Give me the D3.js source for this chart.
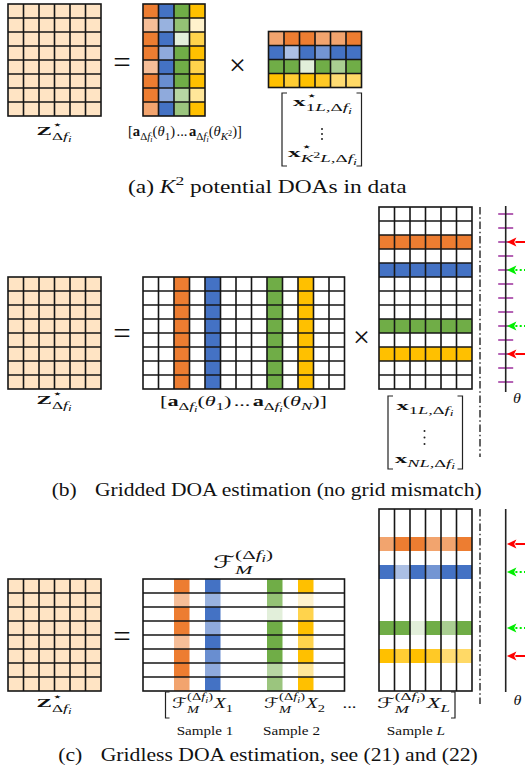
<!DOCTYPE html>
<html><head><meta charset="utf-8">
<script src="https://cdn.jsdelivr.net/npm/d3@7"></script>
<style>html,body{margin:0;padding:0;background:#fff;} svg{display:block;}</style>
</head><body>
<svg id="fig" width="525" height="774"></svg>
<script>
// ---------------- data ----------------
const sourceColors = ["#ED7D31", "#4472C4", "#70AD47", "#FFC000"];
const dataFill = "#FFE4C4";
const sensorCount = 8;             // rows of Z and of the steering matrix
const snapshotCount = 6;           // columns of Z and of X
const sourceCount = 4;             // K^2 potential DOAs in (a)
const gridSize = 13;               // grid points N
const activeGrid = [2, 4, 8, 10];  // grid index of each source
const trueDOA = [true, false, false, true]; // red solid vs green dotted arrow
// fill opacity of steering entries: rows = sensors, cols = sources
const steeringAmp = [
  [1, 1, 1, 1],
  [0.5, 0.55, 0.75, 0.2],
  [1, 1, 0.2, 0.7],
  [1, 0.6, 1, 1],
  [0.5, 1, 1, 0.7],
  [1, 0.8, 1, 1],
  [1, 0.6, 0.5, 0.4],
  [0.7, 1, 0.7, 1]
];
// fill opacity of signal entries: rows = sources, cols = snapshots
const signalAmp = [
  [0.7, 1, 1, 0.7, 0.7, 1],
  [1, 0.45, 1, 0.75, 1, 1],
  [1, 1, 0.2, 1, 0.6, 1],
  [1, 0.8, 1, 0.85, 0.55, 0.6]
];
const sampleLabels = ["Sample 1", "Sample 2", "Sample L"];
const sampleIdx = ["1", "2", "L"];
const captionTags = ["(a)", "(b)", "(c)"];
const captionTexts = ["potential DOAs in data", "Gridded DOA estimation (no grid mismatch)", "Gridless DOA estimation, see (21) and (22)"];

// ---------------- style ----------------
const SERIF = "'Liberation Serif','Times New Roman',serif";
const SYM = "'DejaVu Sans','DejaVu Serif',sans-serif";
const LINE = "#161616", LW = 1.6;
const CW = 15.5, CH = 14;

const svg = d3.select("#fig");

// ---------------- helpers ----------------
const LV = { "0": [1, 0], sup: [0.75, -0.42], sub: [0.75, 0.27], ss: [0.56, 0.45], sps: [0.56, -0.27], ssp: [0.56, -0.02] };
function S(t, f = "r", l = "0", extra = {}) { return Object.assign({ t, f, l }, extra); }
function mlabel(parent, x, y, base, segs, opt = {}) {
  const anchor = opt.anchor || "middle";
  const g = parent.append("g");
  let cx = 0, maxX = 0, markX = 0;
  segs.forEach(s => {
    const lv = LV[s.l];
    if (s.mark) markX = cx;
    if (s.stack) cx = markX;
    if (s.l === "0") cx = Math.max(cx, maxX);
    cx += (s.dx || 0) * base;
    const t = g.append("text")
      .attr("x", cx).attr("y", (lv[1] + (s.dy || 0)) * base)
      .attr("font-size", base * lv[0] * (s.scale || 1))
      .attr("font-family", s.f === "s" ? SYM : SERIF)
      .attr("font-style", s.f === "i" ? "italic" : "normal")
      .attr("font-weight", s.f === "b" ? "bold" : "normal")
      .attr("fill", "#111")
      .text(s.t);
    cx += t.node().getComputedTextLength();
    maxX = Math.max(maxX, cx);
  });
  const sx = opt.w ? opt.w / maxX : (opt.sx || 1.15);
  const W = maxX * sx;
  const off = anchor === "middle" ? W / 2 : anchor === "end" ? W : 0;
  g.attr("transform", `translate(${x - off},${y}) scale(${sx},1)`);
  return g;
}

function matrix(g, { x, y, cols, rows, cells = [], vlines = true, hlines = true }) {
  const xs = d3.scaleLinear().domain([0, cols]).range([x, x + cols * CW]);
  const ys = d3.scaleLinear().domain([0, rows]).range([y, y + rows * CH]);
  g.append("g").selectAll("rect").data(cells).join("rect")
    .attr("x", d => xs(d.c)).attr("y", d => ys(d.r))
    .attr("width", d => xs(d.c + (d.w || 1)) - xs(d.c))
    .attr("height", d => ys(d.r + (d.h || 1)) - ys(d.r))
    .attr("fill", d => d.fill).attr("fill-opacity", d => d.op == null ? 1 : d.op);
  const lg = g.append("g").attr("stroke", LINE).attr("stroke-width", LW);
  if (vlines) lg.selectAll("line.v").data(d3.range(1, cols)).join("line").attr("class", "v")
    .attr("x1", d => xs(d)).attr("x2", d => xs(d)).attr("y1", ys(0)).attr("y2", ys(rows));
  if (hlines) lg.selectAll("line.h").data(d3.range(1, rows)).join("line").attr("class", "h")
    .attr("y1", d => ys(d)).attr("y2", d => ys(d)).attr("x1", xs(0)).attr("x2", xs(cols));
  g.append("rect").attr("x", xs(0)).attr("y", ys(0))
    .attr("width", xs(cols) - xs(0)).attr("height", ys(rows) - ys(0))
    .attr("fill", "none").attr("stroke", LINE).attr("stroke-width", LW);
  return { xs, ys };
}

function symbol(g, cx, cy, ch, fs, k = 0.27) {
  g.append("text").attr("x", cx).attr("y", cy + k * fs).attr("text-anchor", "middle")
    .attr("font-family", SERIF).attr("font-size", fs).attr("fill", "#111").text(ch);
}
function bracket(g, x0, x1, y0, y1, serif = 5) {
  const p = d3.path();
  p.moveTo(x0 + serif, y0); p.lineTo(x0, y0); p.lineTo(x0, y1); p.lineTo(x0 + serif, y1);
  p.moveTo(x1 - serif, y0); p.lineTo(x1, y0); p.lineTo(x1, y1); p.lineTo(x1 - serif, y1);
  g.append("path").attr("d", p.toString()).attr("fill", "none").attr("stroke", "#222").attr("stroke-width", 1.2);
}
function vdots(g, x, yc, gap) {
  g.selectAll(null).data([-1, 0, 1]).join("circle")
    .attr("cx", x).attr("cy", d => yc + d * gap).attr("r", 1).attr("fill", "#222");
}
function dashDot(g, x, y0, y1) {
  g.append("line").attr("x1", x).attr("x2", x).attr("y1", y0).attr("y2", y1)
    .attr("stroke", "#111").attr("stroke-width", 1.3).attr("stroke-dasharray", "7.5,2.8,1.4,2.8");
}
function doaAxis(g, { x, y0, y1, ys, ticks }) {
  if (ticks) {
    g.selectAll("line.tick").data(d3.range(gridSize)).join("line").attr("class", "tick")
      .attr("x1", x - 7.5).attr("x2", x + 7.5)
      .attr("y1", d => ys(d + 0.5)).attr("y2", d => ys(d + 0.5))
      .attr("stroke", "#A23BA2").attr("stroke-width", 1.6);
  }
  g.append("line").attr("x1", x).attr("x2", x).attr("y1", y0).attr("y2", y1)
    .attr("stroke", "#222").attr("stroke-width", 1.6);
  const tip = x + 1.2, hl = 9.5, hw = 4.6;
  activeGrid.forEach((gi, s) => {
    const yy = ys(gi + 0.5);
    const col = trueDOA[s] ? "#FF0000" : "#00EE00";
    g.append("line").attr("x1", tip + hl - 1).attr("x2", 530).attr("y1", yy).attr("y2", yy)
      .attr("stroke", col).attr("stroke-width", 2)
      .attr("stroke-dasharray", trueDOA[s] ? null : "2,2.3");
    g.append("path").attr("d", `M${tip},${yy}L${tip + hl},${yy - hw}L${tip + hl - 2.2},${yy}L${tip + hl},${yy + hw}Z`)
      .attr("fill", col);
  });
}
function caption(g, i, x, y, w, gapEm, mid) {
  const segs = [S(captionTags[i], "r")];
  if (mid.length) {
    mid[0].dx = gapEm;
    segs.push(...mid, S("\u00A0" + captionTexts[i], "r"));
  } else {
    segs.push(S(captionTexts[i], "r", "0", { dx: gapEm }));
  }
  mlabel(g, x, y, 18, segs, { w });
}

const zCells = d3.cross(d3.range(snapshotCount), d3.range(sensorCount)).map(([c, r]) => ({ c, r, fill: dataFill }));
// stacked superscript star over subscript (pushed apart as TeX does)
const starSeg = () => S("\u22C6", "s", "sup", { mark: true, dy: -0.1 });
const zLabel = () => [S("Z", "b"), starSeg(), S("\u0394", "r", "sub", { stack: true, dy: 0.11 }), S("f", "i", "sub", { dy: 0.11 }), S("i", "i", "ss", { dy: 0.11 })];
const dSub = (dy = 0) => [S("\u0394", "r", "sub", { dy }), S("f", "i", "sub", { dy }), S("i", "i", "ss", { dy })];
const steerLabel = (last) => [S("["), S("a", "b"), ...dSub(), S("("), S("\u03B8", "i"), S("1", "r", "sub"), S(")"),
  S("...", "r", "0", { dx: 0.1 }), S("a", "b", "0", { dx: 0.1 }), ...dSub(), S("("), S("\u03B8", "i"), ...last, S(")"), S("]")];

// ================= (a) =================
const ga = svg.append("g");
matrix(ga, { x: 8, y: 4, cols: snapshotCount, rows: sensorCount, cells: zCells });
matrix(ga, {
  x: 143, y: 4, cols: sourceCount, rows: sensorCount,
  cells: d3.cross(d3.range(sensorCount), d3.range(sourceCount)).map(([r, s]) => ({ c: s, r, fill: sourceColors[s], op: steeringAmp[r][s] }))
});
matrix(ga, {
  x: 268.5, y: 31.5, cols: snapshotCount, rows: sourceCount,
  cells: d3.cross(d3.range(sourceCount), d3.range(snapshotCount)).map(([s, c]) => ({ c, r: s, fill: sourceColors[s], op: signalAmp[s][c] }))
});
symbol(ga, 122, 64.5, "=", 31);
symbol(ga, 237.5, 65.5, "\u00D7", 30, 0.3);
mlabel(ga, 54, 135, 13, zLabel(), { w: 35 });
mlabel(ga, 185, 136, 14, steerLabel([S("K", "i", "sub"), S("2", "r", "ssp")]), { w: 114 });
bracket(ga, 282, 361.5, 93, 166);
mlabel(ga, 322.5, 106, 13.5, [S("x", "b"), starSeg(), S("1", "r", "sub", { stack: true, dy: 0.11 }), S("L", "i", "sub", { dy: 0.11 }), S(",", "r", "sub", { dy: 0.11 }), ...dSub(0.11)], { w: 59 });
vdots(ga, 322, 134, 5);
mlabel(ga, 322.5, 157, 13.5, [S("x", "b"), starSeg(), S("K", "i", "sub", { stack: true, dy: 0.11 }), S("2", "r", "ssp", { dy: 0.11 }), S("L", "i", "sub", { dy: 0.11 }), S(",", "r", "sub", { dy: 0.11 }), ...dSub(0.11)], { w: 69 });
caption(ga, 0, 267.3, 193, 278.7, 0.25, [S("K", "i"), S("2", "r", "sup")]);

// ================= (b) =================
const gb = svg.append("g");
matrix(gb, { x: 8, y: 277, cols: snapshotCount, rows: sensorCount, cells: zCells });
matrix(gb, {
  x: 143, y: 277, cols: gridSize, rows: sensorCount,
  cells: activeGrid.map((gi, s) => ({ c: gi, r: 0, h: sensorCount, fill: sourceColors[s] }))
});
const xb = matrix(gb, {
  x: 379, y: 207, cols: snapshotCount, rows: gridSize,
  cells: activeGrid.map((gi, s) => ({ c: 0, r: gi, w: snapshotCount, fill: sourceColors[s] }))
});
symbol(gb, 122, 336, "=", 31);
symbol(gb, 361.5, 337.5, "\u00D7", 30, 0.3);
mlabel(gb, 54, 404, 13, zLabel(), { w: 35 });
mlabel(gb, 243.5, 406, 14, steerLabel([S("N", "i", "sub")]), { w: 167 });
bracket(gb, 388, 462.5, 396, 469);
mlabel(gb, 425, 410, 13.5, [S("x", "b"), S("1", "r", "sub"), S("L", "i", "sub"), S(",", "r", "sub"), ...dSub()], { w: 57 });
vdots(gb, 424.5, 437.5, 6.5);
mlabel(gb, 425, 463, 13.5, [S("x", "b"), S("N", "i", "sub"), S("L", "i", "sub"), S(",", "r", "sub"), ...dSub()], { w: 60 });
dashDot(gb, 480, 207, 457);
doaAxis(gb, { x: 505.7, y0: 206, y1: 392, ys: xb.ys, ticks: true });
mlabel(gb, 517, 403, 14, [S("\u03B8", "i")]);
caption(gb, 1, 266.7, 496, 430, 0.85, []);

// ================= (c) =================
const gc = svg.append("g");
matrix(gc, { x: 8, y: 579, cols: snapshotCount, rows: sensorCount, cells: zCells });
matrix(gc, {
  x: 143, y: 579, cols: gridSize, rows: sensorCount, vlines: false,
  cells: d3.cross(d3.range(sensorCount), d3.range(sourceCount)).map(([r, s]) => ({ c: activeGrid[s], r, fill: sourceColors[s], op: steeringAmp[r][s] }))
});
const xc = matrix(gc, {
  x: 379, y: 509, cols: snapshotCount, rows: gridSize, hlines: false,
  cells: d3.cross(d3.range(sourceCount), d3.range(snapshotCount)).map(([s, c]) => ({ c, r: activeGrid[s], fill: sourceColors[s], op: signalAmp[s][c] }))
});
symbol(gc, 122, 639, "=", 31);
mlabel(gc, 54, 707, 13, zLabel(), { w: 35 });
const fSeg = () => [S("\u2131", "s"), S("(", "r", "sup", { mark: true, dy: -0.1 }), S("\u0394", "r", "sup", { dy: -0.1 }), S("f", "i", "sup", { dy: -0.1 }), S("i", "i", "sps", { dy: -0.1 }), S(")", "r", "sup", { dy: -0.1 }), S("M", "i", "sub", { stack: true, dy: 0.1 })];
mlabel(gc, 243, 568, 17, fSeg(), { w: 60 });
const groupX = [202.5, 294.5, 413.5], groupW = [61, 61, 73];
const sampleCx = [205, 291.5, 416], sampleW = [56.6, 57, 58.3];
groupX.forEach((x, k) => {
  mlabel(gc, x, 708, 14.5, fSeg().concat([S("X", "i", "0", { dx: 0.05 }), S(sampleIdx[k], k === 2 ? "i" : "r", "sub")]), { w: groupW[k] });
  const parts = sampleLabels[k].split(" ");
  mlabel(gc, sampleCx[k], 735, 12, [S(parts[0] + "\u00A0", "r"), S(parts[1], k === 2 ? "i" : "r")], { w: sampleW[k] });
});
mlabel(gc, 349.5, 708, 15, [S("...", "r")], { w: 14 });
bracket(gc, 165.5, 455, 692, 718, 4);
dashDot(gc, 480, 509, 704);
doaAxis(gc, { x: 505.7, y0: 509, y1: 692, ys: xc.ys, ticks: false });
mlabel(gc, 517.5, 705, 14, [S("\u03B8", "i")]);
caption(gc, 2, 268.2, 761, 420, 0.85, []);
</script>
</body></html>
